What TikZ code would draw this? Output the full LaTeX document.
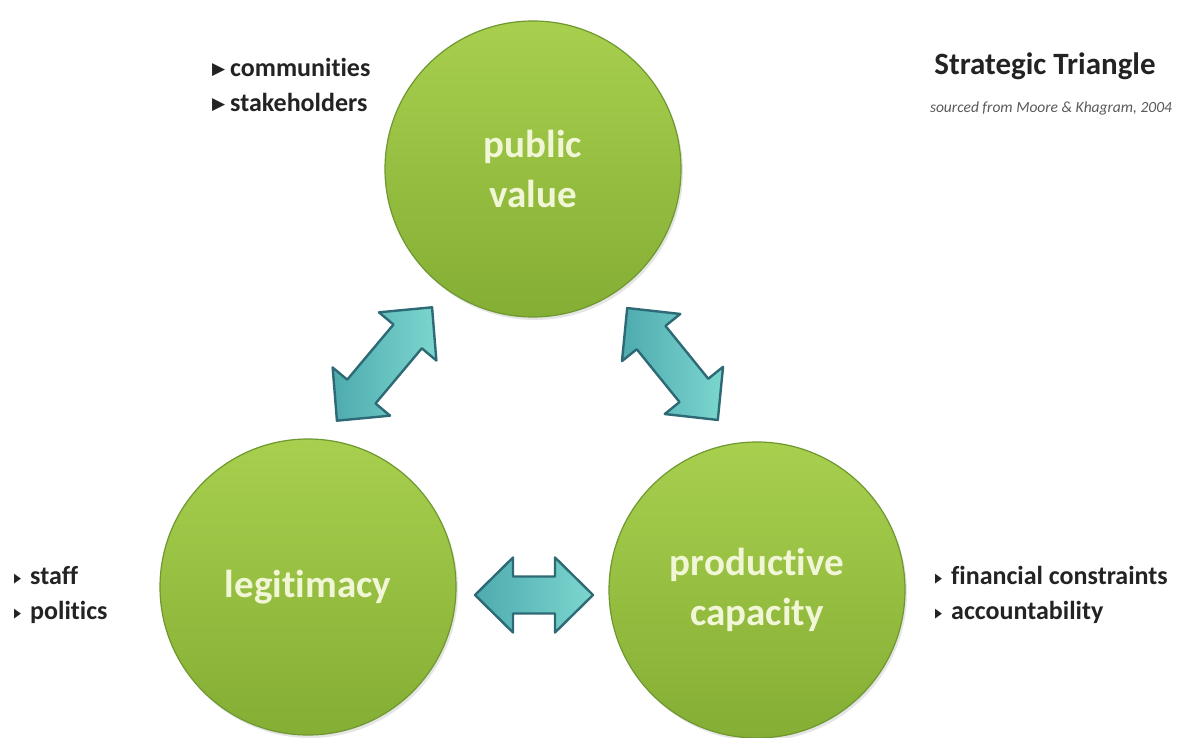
\documentclass[tikz,border=0pt]{standalone}
\usepackage{fontspec}
\setmainfont[Ligatures=NoCommon]{Carlito}
\newfontfamily\symfont{DejaVu Sans}
\usetikzlibrary{shadows}

\definecolor{leafhi}{HTML}{A8CF4E}
\definecolor{leaflo}{HTML}{84AE34}
\definecolor{leafrim}{HTML}{6E9830}
\definecolor{tealhi}{HTML}{7CD6CF}
\definecolor{teallo}{HTML}{4EABAE}
\definecolor{tealrim}{HTML}{2E6A76}
\definecolor{cream}{HTML}{F1F6D6}
\definecolor{ink}{HTML}{232323}

% small triangle bullets in front of the side notes
\newcommand{\bigpointer}{\makebox[18pt][l]{\raisebox{2pt}{\symfont\fontsize{17}{17}\selectfont ▶}}}
\newcommand{\pointer}{\makebox[16pt][l]{\raisebox{2.5pt}{\symfont\fontsize{13}{13}\selectfont\scalebox{0.7}[1]{▶}}}}

\tikzset{
  pics/dblarrow/.style={code={
    \path[arrowbody]
      (-#1,0) -- (-#1+38,37.5) -- (-#1+38,18.5) -- (#1-38,18.5) -- (#1-38,37.5)
      -- (#1,0) -- (#1-38,-37.5) -- (#1-38,-18.5) -- (-#1+38,-18.5) -- (-#1+38,-37.5)
      -- cycle;
  }}
}

\begin{document}
\begin{tikzpicture}[x=1pt, y=1pt,
    hub/.style={circle, minimum size=296pt, inner sep=0pt, align=center,
      top color=leafhi, bottom color=leaflo, draw=leafrim, line width=1.2pt,
      text=cream, font=\bfseries\fontsize{39}{50}\selectfont,
      drop shadow={opacity=0.2, shadow xshift=2pt, shadow yshift=-3pt}},
    arrowbody/.style={left color=teallo, right color=tealhi, draw=tealrim,
      line width=2.4pt, line join=round},
    note/.style={anchor=base west, inner sep=0pt, text=ink,
      font=\bfseries\fontsize{26}{30}\selectfont}]
  \useasboundingbox[fill=white] (0,0) rectangle (1182,738);

  % the three corners
  \node[hub] (value) at (533,569) {public\\value};
  \node[hub] (legit) at (308,151) {legitimacy};
  \node[hub] (capac) at (757,148) {productive\\capacity};

  % two-way links between them
  \pic (linkl) at (384.5,374) [rotate=50] {dblarrow=74};
  \pic (linkr) at (672.5,374) [rotate=-51] {dblarrow=72};
  \pic (linkb) at (534,143) {dblarrow=59};

  % side notes
  \node[note] (comm) at (212,661) {\bigpointer communities};
  \node[note] (stake) at (212,626) {\bigpointer stakeholders};
  \node[note] (staff) at (14,153) {\pointer staff};
  \node[note] (polit) at (14,118) {\pointer politics};
  \node[note] (finan) at (935,153) {\pointer financial constraints};
  \node[note] (accnt) at (935,118) {\pointer accountability};

  % heading
  \node[text=ink, font=\bfseries\fontsize{31}{34}\selectfont, anchor=base]
    (title) at (1045,663) {Strategic Triangle};
  \node[text=ink!75, font=\itshape\fontsize{15.5}{18}\selectfont, anchor=base]
    (source) at (1051,625) {sourced from Moore \& Khagram, 2004};
\end{tikzpicture}
\end{document}
